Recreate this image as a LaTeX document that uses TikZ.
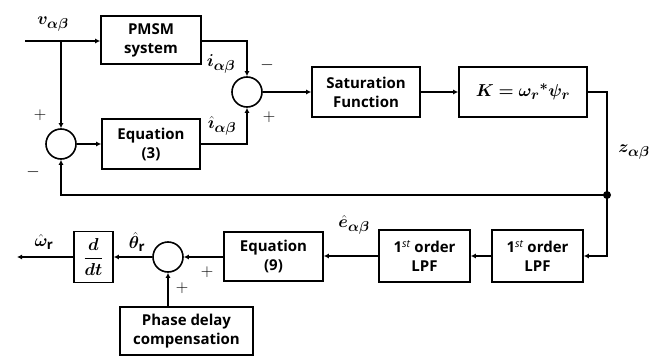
\documentclass[tikz,border=0pt]{standalone}
\usepackage{amsmath,bm}
\usepackage{fontspec}
\setmainfont{Open Sans}
\usetikzlibrary{arrows.meta}
\begin{document}
\begin{tikzpicture}[x=1pt,y=-1pt, line width=1.5pt,
  blk/.style={draw, line width=1.6pt, inner sep=0pt, font=\bfseries\fontsize{15}{19}\selectfont, align=center},
  sumc/.style={draw, circle, minimum size=30pt, inner sep=0pt, line width=1.6pt},
  arr/.style={-{Latex[length=5pt,width=5pt]}},
  lbl/.style={inner sep=0pt, font=\fontsize{19}{20}\selectfont},
  sgn/.style={inner sep=0pt, font=\fontsize{19}{20}\selectfont}]
\useasboundingbox (0,0) rectangle (661,356);
% blocks
\node[blk, minimum width=100pt, minimum height=48pt] (pmsm) at (151,40) {PMSM\\system};
\node[blk, minimum width=98pt, minimum height=50pt] (eq3) at (151,144) {Equation\\(3)};
\node[blk, minimum width=108pt, minimum height=50pt] (sat) at (366,92) {Saturation\\Function};
\node[blk, minimum width=128pt, minimum height=50pt, font=\fontsize{19}{20}\selectfont] (K) at (523,92) {$\boldsymbol{K=\omega_r{}^{*}\psi_r}$};
\node[blk, minimum width=91pt, minimum height=52pt] (lpf2) at (537.5,256) {1$^{\mathit{st}}$ order\\LPF};
\node[blk, minimum width=91pt, minimum height=52pt] (lpf1) at (424.5,256) {1$^{\mathit{st}}$ order\\LPF};
\node[blk, minimum width=99pt, minimum height=49pt] (eq9) at (273.5,256.5) {Equation\\(9)};
\node[blk, minimum width=39pt, minimum height=51pt, font=\fontsize{18}{20}\selectfont] (ddt) at (93.5,257) {$\boldsymbol{\dfrac{d}{dt}}$};
\node[blk, minimum width=133pt, minimum height=48pt] (phase) at (186.5,331) {Phase delay\\compensation};
% summing junctions
\node[sumc] (s1) at (247,92) {};
\node[sumc] (s2) at (61,144) {};
\node[sumc] (s3) at (168,257) {};
% coordinates
\coordinate (in) at (25,41);
\coordinate (br) at (61,41);
\coordinate (kc) at (607,92);
\coordinate (dot) at (607,195);
\coordinate (out) at (17,257);
\fill (dot) circle (4pt);
% connectors
\draw[arr] (in) -- (in -| pmsm.west);
\draw[arr] (br) -- (s2.north);
\draw[arr] (pmsm.east |- in) -| (s1.north);
\draw[arr] (eq3.east) -| (s1.south);
\draw[arr] (s1.east) -- (sat.west);
\draw[arr] (sat.east) -- (K.west);
\draw[arr] (s2.east) -- (eq3.west);
\draw (K.east) -- (kc) -- (dot);
\draw[arr] (dot) -| (s2.south);
\draw[arr] (dot) |- (lpf2.east);
\draw[arr] (lpf2.west) -- (lpf1.west -| lpf1.east);
\draw[arr] (lpf1.west) -- (eq9.east |- lpf1.west);
\draw[arr] (eq9.west |- s3.east) -- (s3.east);
\draw[arr] (phase.north -| s3.south) -- (s3.south);
\draw[arr] (s3.west) -- (ddt.east |- s3.west);
\draw[arr] (ddt.west |- s3.west) -- (out);
% labels
\node[lbl] (lv) at (53,24) {$\boldsymbol{v_{\alpha\beta}}$};
\node[lbl] (li) at (221,64) {$\boldsymbol{i_{\alpha\beta}}$};
\node[lbl] (lih) at (222,126) {$\boldsymbol{\hat{\imath}_{\alpha\beta}}$};
\node[lbl] (lz) at (634,152) {$\boldsymbol{z_{\alpha\beta}}$};
\node[lbl] (le) at (354,225) {$\boldsymbol{\hat{e}_{\alpha\beta}}$};
\node[lbl] (lth) at (137,242) {$\boldsymbol{\hat{\theta}}_{\mathbf{r}}$};
\node[lbl] (lw) at (44,242) {$\boldsymbol{\hat{\omega}}_{\mathbf{r}}$};
\node[sgn] (m1) at (267,65) {$-$};
\node[sgn] (p1) at (269,117) {$+$};
\node[sgn] (p2) at (40,115) {$+$};
\node[sgn] (m2) at (33,172) {$-$};
\node[sgn] (p3) at (207,272) {$+$};
\node[sgn] (p4) at (182,288) {$+$};
\end{tikzpicture}
\end{document}
